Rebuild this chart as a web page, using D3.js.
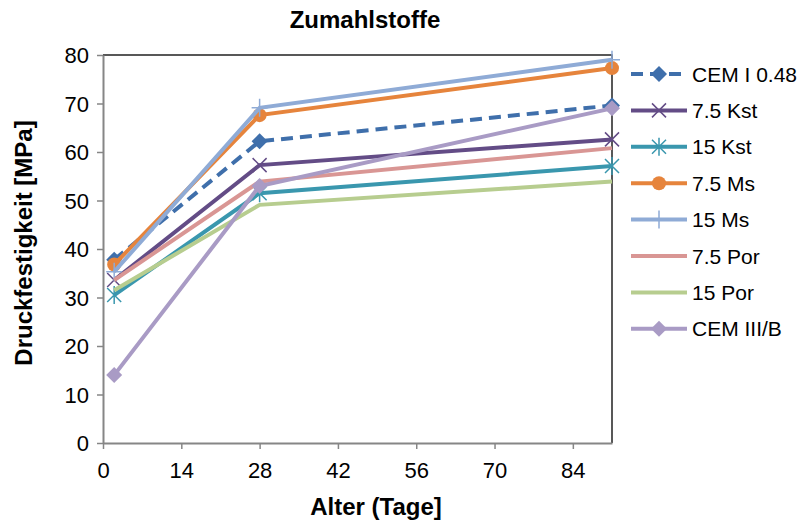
<!DOCTYPE html>
<html>
<head>
<meta charset="utf-8">
<script src="https://cdn.jsdelivr.net/npm/d3@7"></script>
<style>
  body { margin: 0; background: #fff; }
  text { font-family: Arial, "Liberation Sans", sans-serif; }
</style>
</head>
<body>
<div id="chart"></div>
<script>
// Data
var days = [2, 28, 91];
var seriesNames = ["CEM I 0.48", "7.5 Kst", "15 Kst", "7.5 Ms", "15 Ms", "7.5 Por", "15 Por", "CEM III/B"];
var cem1 = [37.8, 62.2, 69.6];
var kst75 = [33.6, 57.3, 62.6];
var kst15 = [30.5, 51.5, 57.1];
var ms75 = [36.8, 67.6, 77.3];
var ms15 = [35.3, 69.1, 79.0];
var por75 = [33.6, 53.9, 60.8];
var por15 = [31.5, 49.1, 53.9];
var cem3b = [14.0, 53.0, 69.0];
var xTicks = [0, 14, 28, 42, 56, 70, 84];
var yTicks = [0, 10, 20, 30, 40, 50, 60, 70, 80];

var values = [cem1, kst75, kst15, ms75, ms15, por75, por15, cem3b];
var colors = ["#3f6fab", "#634c86", "#3a97ae", "#e6843c", "#8fabd6", "#d99694", "#b7cd8f", "#a99bc5"];
var markers = ["diamond", "x", "star", "circle", "plus", "none", "none", "diamond"];

var W = 802, H = 522;
var m = { left: 103, right: 612, top: 55, bottom: 443 };

var svg = d3.select("#chart").append("svg")
  .attr("width", W).attr("height", H);

var x = d3.scaleLinear().domain([0, 91]).range([m.left, m.right]);
var y = d3.scaleLinear().domain([0, 80]).range([m.bottom, m.top]);

// plot border top/right
svg.append("path")
  .attr("d", "M" + m.left + "," + m.top + "H" + m.right + "V" + m.bottom)
  .attr("fill", "none").attr("stroke", "#222").attr("stroke-width", 1.5);

// axes
var xAxis = svg.append("g")
  .attr("transform", "translate(0," + m.bottom + ")")
  .call(d3.axisBottom(x).tickValues(xTicks).tickSize(6).tickSizeOuter(0).tickPadding(8));
var yAxis = svg.append("g")
  .attr("transform", "translate(" + m.left + ",0)")
  .call(d3.axisLeft(y).tickValues(yTicks).tickSize(6).tickSizeOuter(0).tickPadding(8));

[xAxis, yAxis].forEach(function(a) {
  a.select(".domain").attr("stroke", "#868686").attr("stroke-width", 2);
  a.selectAll(".tick line").attr("stroke", "#868686").attr("stroke-width", 1.5);
  a.selectAll(".tick text").attr("fill", "#000").style("font-size", "22px")
    .style("font-family", "Arial, 'Liberation Sans', sans-serif");
});
yAxis.selectAll(".tick text").attr("dy", "0.36em");
xAxis.selectAll(".tick text").attr("dy", "0.95em");

// titles
svg.append("text").attr("x", 365).attr("y", 28).attr("text-anchor", "middle")
  .style("font-size", "24px").style("font-weight", "bold").text("Zumahlstoffe");
svg.append("text").attr("x", 376).attr("y", 515).attr("text-anchor", "middle")
  .style("font-size", "24px").style("font-weight", "bold").text("Alter (Tage]");
svg.append("text").attr("transform", "translate(32,243) rotate(-90)").attr("text-anchor", "middle")
  .style("font-size", "24px").style("font-weight", "bold").text("Druckfestigkeit [MPa]");

function drawMarker(g, type, cx, cy, color) {
  if (type === "diamond") {
    g.append("path").attr("d", "M" + cx + "," + (cy - 8) + "L" + (cx + 8) + "," + cy + "L" + cx + "," + (cy + 8) + "L" + (cx - 8) + "," + cy + "Z")
      .attr("fill", color);
  } else if (type === "circle") {
    g.append("circle").attr("cx", cx).attr("cy", cy).attr("r", 7).attr("fill", color);
  } else if (type === "x") {
    g.append("path").attr("d", "M" + (cx - 7) + "," + (cy - 7) + "L" + (cx + 7) + "," + (cy + 7) + "M" + (cx - 7) + "," + (cy + 7) + "L" + (cx + 7) + "," + (cy - 7))
      .attr("stroke", color).attr("stroke-width", 1.5).attr("fill", "none");
  } else if (type === "star") {
    g.append("path").attr("d", "M" + (cx - 7) + "," + (cy - 7) + "L" + (cx + 7) + "," + (cy + 7) + "M" + (cx - 7) + "," + (cy + 7) + "L" + (cx + 7) + "," + (cy - 7) + "M" + cx + "," + (cy - 9) + "L" + cx + "," + (cy + 9))
      .attr("stroke", color).attr("stroke-width", 1.5).attr("fill", "none");
  } else if (type === "plus") {
    g.append("path").attr("d", "M" + cx + "," + (cy - 9) + "L" + cx + "," + (cy + 9) + "M" + (cx - 8) + "," + cy + "L" + (cx + 8) + "," + cy)
      .attr("stroke", color).attr("stroke-width", 1.5).attr("fill", "none");
  }
}

var line = d3.line()
  .x(function(d, i) { return x(days[i]); })
  .y(function(d) { return y(d); });

values.forEach(function(vals, s) {
  var g = svg.append("g");
  g.append("path").datum(vals)
    .attr("d", line)
    .attr("fill", "none")
    .attr("stroke", colors[s])
    .attr("stroke-width", 4)
    .attr("stroke-dasharray", s === 0 ? "12,7" : null);
  vals.forEach(function(v, i) {
    drawMarker(g, markers[s], x(days[i]), y(v), colors[s]);
  });
});

// legend
var leg = svg.append("g");
seriesNames.forEach(function(name, s) {
  var ly = 74 + s * 36.4;
  leg.append("line").attr("x1", 631).attr("x2", 687).attr("y1", ly).attr("y2", ly)
    .attr("stroke", colors[s]).attr("stroke-width", 4)
    .attr("stroke-dasharray", s === 0 ? "12,7" : null);
  drawMarker(leg, markers[s], 659, ly, colors[s]);
  leg.append("text").attr("x", 692).attr("y", ly).attr("dy", "0.36em")
    .style("font-size", "21px").text(name);
});
</script>
</body>
</html>
